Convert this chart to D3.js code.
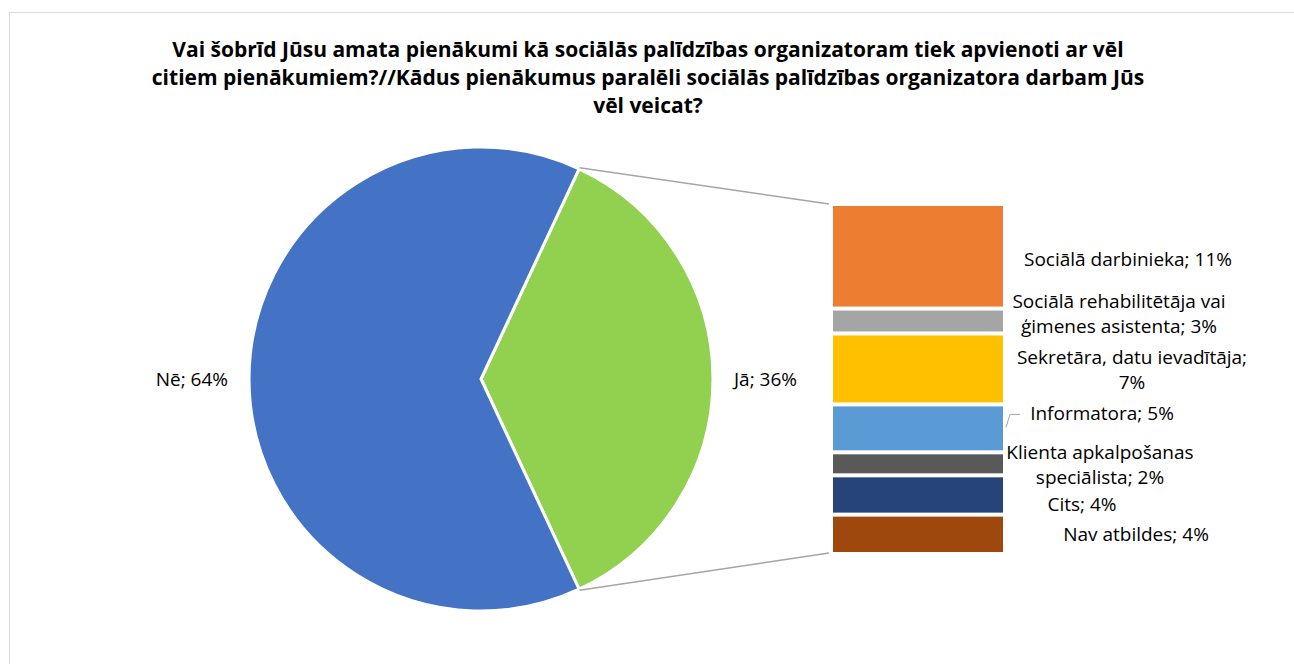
<!DOCTYPE html>
<meta charset="utf-8">
<style>
body { margin: 0; background: #fff; }
text { font-family: "Open Sans", sans-serif; fill: #000; }
.title { font-weight: bold; font-size: 21px; }
.lbl { font-size: 19px; }
</style>
<body>
<script src="https://d3js.org/d3.v7.min.js"></script>
<script>

// data
var titleLines = [
  "Vai šobrīd Jūsu amata pienākumi kā sociālās palīdzības organizatoram tiek apvienoti ar vēl",
  "citiem pienākumiem?//Kādus pienākumus paralēli sociālās palīdzības organizatora darbam Jūs",
  "vēl veicat?"
];
var pieNames = ["Jā", "Nē"];
var pieValues = [36.1, 63.9];
var pieLabels = ["Jā; 36%", "Nē; 64%"];

var barNames = ["Sociālā darbinieka", "Sociālā rehabilitētāja vai ģimenes asistenta", "Sekretāra, datu ievadītāja",
  "Informatora", "Klienta apkalpošanas speciālista", "Cits", "Nav atbildes"];
var barValues = [10.7, 2.6, 7.4, 5.0, 2.4, 4.1, 3.9];
var barLabels = [
  ["Sociālā darbinieka; 11%"],
  ["Sociālā rehabilitētāja vai", "ģimenes asistenta; 3%"],
  ["Sekretāra, datu ievadītāja;", "7%"],
  ["Informatora; 5%"],
  ["Klienta apkalpošanas", "speciālista; 2%"],
  ["Cits; 4%"],
  ["Nav atbildes; 4%"]
];
var barColors = ["#ED7D31", "#A5A5A5", "#FFC000", "#5B9BD5", "#595959", "#264478", "#9E480E"];

// layout
var width = 1294, height = 664;
var cx = 481, cy = 379, r = 232;
var barX = 833, barW = 170, barTop = 206, barBottom = 552;
// label placement: center x, vertical shift from segment middle
var labelPos = [[1128, 2], [1119, -8], [1132, 1], [1102, -15], [1100, 1], [1082, 9], [1136, 1]];

var svg = d3.select("body").append("svg")
    .attr("width", width)
    .attr("height", height);

svg.append("rect")
    .attr("x", 9.5).attr("y", 12.5)
    .attr("width", 1400).attr("height", 800)
    .attr("fill", "#fff")
    .attr("stroke", "#d9d9d9");

// title
svg.append("text")
    .attr("class", "title")
    .attr("text-anchor", "middle")
    .selectAll("tspan")
    .data(titleLines)
  .enter().append("tspan")
    .attr("x", 648)
    .attr("y", function(d, i) { return 57 + i * 28; })
    .text(function(d) { return d; });

// pie
var jaAngle = 2 * Math.PI * pieValues[0] / d3.sum(pieValues);
var pie = d3.pie().sort(null)
    .startAngle(Math.PI / 2 - jaAngle / 2)
    .endAngle(Math.PI / 2 - jaAngle / 2 + 2 * Math.PI);
var arcs = pie(pieValues);
var arc = d3.arc().innerRadius(0).outerRadius(r);

var g = svg.append("g").attr("transform", "translate(" + cx + "," + cy + ")");
g.selectAll("path")
    .data(arcs)
  .enter().append("path")
    .attr("d", arc)
    .attr("fill", function(d, i) { return i === 0 ? "#92D050" : "#4472C4"; })
    .attr("stroke", "#fff")
    .attr("stroke-width", 3);

// pie labels
svg.append("text").attr("class", "lbl")
    .attr("x", cx + r + 21).attr("y", cy + 7)
    .text(pieLabels[0]);
svg.append("text").attr("class", "lbl")
    .attr("x", cx - r - 21).attr("y", cy + 7)
    .attr("text-anchor", "end")
    .text(pieLabels[1]);

// bar of pie
var y = d3.scaleLinear()
    .domain([0, d3.sum(barValues)])
    .range([barTop, barBottom]);
var cum = d3.cumsum(barValues);
var starts = barValues.map(function(v, i) { return cum[i] - v; });

// connector lines
var a0 = arcs[0].startAngle, a1 = arcs[0].endAngle;
var p0 = [cx + (r + 1) * Math.sin(a0), cy - (r + 1) * Math.cos(a0)];
var p1 = [cx + (r + 1) * Math.sin(a1), cy - (r + 1) * Math.cos(a1)];
svg.append("line")
    .attr("x1", p0[0]).attr("y1", p0[1])
    .attr("x2", barX - 4).attr("y2", y(0) - 2)
    .attr("stroke", "#a5a5a5").attr("stroke-width", 1.5);
svg.append("line")
    .attr("x1", p1[0]).attr("y1", p1[1])
    .attr("x2", barX - 4).attr("y2", y(d3.sum(barValues)) + 1)
    .attr("stroke", "#a5a5a5").attr("stroke-width", 1.5);

svg.selectAll(".seg")
    .data(barValues)
  .enter().append("rect")
    .attr("class", "seg")
    .attr("x", barX)
    .attr("width", barW)
    .attr("y", function(d, i) { return y(starts[i]) + (i === 0 ? 0 : 2); })
    .attr("height", function(d, i) {
      var top = y(starts[i]) + (i === 0 ? 0 : 2);
      var bot = y(cum[i]) - (i === barValues.length - 1 ? 0 : 2);
      return bot - top;
    })
    .attr("fill", function(d, i) { return barColors[i]; });

// bar labels
barLabels.forEach(function(lines, i) {
  var mid = y(starts[i] + barValues[i] / 2) + labelPos[i][1];
  var t = svg.append("text").attr("class", "lbl").attr("text-anchor", "middle");
  lines.forEach(function(s, j) {
    t.append("tspan")
      .attr("x", labelPos[i][0])
      .attr("y", mid + 7 + (j - (lines.length - 1) / 2) * 25)
      .text(s);
  });
});

// leader line for Informatora
var im = y(starts[3] + barValues[3] / 2) + labelPos[3][1];
svg.append("path")
    .attr("d", "M" + (barX + barW + 3) + "," + (im + 14) + "L" + (barX + barW + 7) + "," + (im + 1) + "H" + (barX + barW + 17))
    .attr("fill", "none")
    .attr("stroke", "#a5a5a5")
    .attr("stroke-width", 1);

</script>
</body>
